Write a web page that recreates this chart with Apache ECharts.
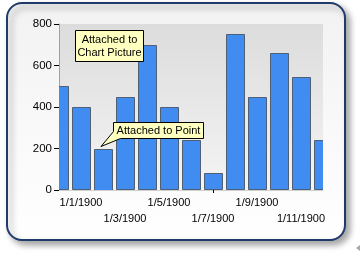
<!DOCTYPE html>
<html><head><meta charset="utf-8">
<script src="https://cdn.jsdelivr.net/npm/echarts@6/dist/echarts.min.js"></script>
<style>html,body{margin:0;padding:0;background:#fff}#c{width:361px;height:256px}</style>
</head><body><div id="c"></div>
<script>
var dates = ['12/31/1899','1/1/1900','1/2/1900','1/3/1900','1/4/1900','1/5/1900','1/6/1900','1/7/1900','1/8/1900','1/9/1900','1/10/1900','1/11/1900','1/12/1900'];
var values = [500, 400, 200, 450, 700, 400, 240, 80, 750, 450, 660, 545, 240];
var yTicks = [0, 200, 400, 600, 800];
var noteChart = ['Attached to', 'Chart Picture'];
var notePoint = 'Attached to Point';
var pointIndex = 2;

var FONT = '"Liberation Sans", Arial, sans-serif';
var BAR_W = 18;
var chart = echarts.init(document.getElementById('c'), null, {renderer: 'canvas'});

function xAxisRow(idxs, margin, showLine, tickIdx) {
  return {
    type: 'category', data: dates, boundaryGap: false, position: 'bottom', offset: 0,
    axisLine: {show: showLine, lineStyle: {color: '#d0d0d0', width: 1}},
    axisTick: {show: tickIdx != null, length: 3, lineStyle: {color: '#000'},
      interval: function (i) { return i === tickIdx; }},
    splitLine: {show: false},
    axisLabel: {
      interval: function (i) { return idxs.indexOf(i) >= 0; },
      color: '#000', fontFamily: FONT, fontSize: 11, margin: margin,
      hideOverlap: false, showMinLabel: true, showMaxLabel: true
    }
  };
}

chart.setOption({
  animation: false,
  backgroundColor: '#ffffff',
  grid: {
    left: 59, right: 38, top: 24, bottom: 66, show: true, borderWidth: 0,
    backgroundColor: {type: 'linear', x: 0, y: 0, x2: 0, y2: 1,
      colorStops: [{offset: 0, color: '#dcdcdc'}, {offset: 1, color: '#f4f4f4'}]}
  },
  xAxis: [xAxisRow([1, 5, 9], 7, true, 7), xAxisRow([3, 7, 11], 23, false, null)],
  yAxis: {
    type: 'value', min: yTicks[0], max: yTicks[yTicks.length - 1], interval: 200,
    axisLine: {show: true, lineStyle: {color: '#a0a0a0', width: 1}},
    axisTick: {show: true, length: 5, lineStyle: {color: '#000'}},
    splitLine: {show: false},
    axisLabel: {color: '#000', fontFamily: FONT, fontSize: 11.5, margin: 7}
  },
  series: [{
    type: 'custom', xAxisIndex: 0, clip: true,
    data: values.map(function (v, i) { return [i, v]; }),
    encode: {x: 0, y: 1},
    renderItem: function (params, api) {
      var top = api.coord([api.value(0), api.value(1)]);
      var base = api.coord([api.value(0), 0]);
      return {
        type: 'rect',
        shape: {x: Math.round(top[0] - BAR_W / 2) + 0.5, y: Math.round(top[1]) + 0.5, width: BAR_W, height: Math.round(base[1] - top[1]) - 1},
        style: {fill: '#418cf0', stroke: '#4f5f75', lineWidth: 1}
      };
    }
  }]
});

var tip = chart.convertToPixel({xAxisIndex: 0, yAxisIndex: 0}, [pointIndex, values[pointIndex]]);
var tx = tip[0] - 2, ty = tip[1] - 2;
var bx = Math.round(tx + 11.5) + 0.5, by = Math.round(ty - 25) + 0.5, bw = 90, bh = 16;

chart.setOption({
  graphic: [
    {type: 'rect', z: -100, silent: true,
      shape: {x: 7, y: 3, width: 338, height: 237, r: 15},
      style: {
        fill: {type: 'linear', x: 0, y: 0, x2: 0, y2: 1,
          colorStops: [{offset: 0, color: '#f2f2f2'}, {offset: 1, color: '#ffffff'}]},
        stroke: '#1f3b6b', lineWidth: 2,
        shadowBlur: 6, shadowOffsetX: 4, shadowOffsetY: 4, shadowColor: 'rgba(0,0,0,0.35)'
      }},
    {type: 'polygon', z: 100, silent: true,
      shape: {points: [[356, 248], [360, 245], [360, 251]]},
      style: {fill: '#a8a8a8'}},
    {type: 'rect', z: 100, silent: true,
      shape: {x: 75.5, y: 30.5, width: 68, height: 31},
      style: {fill: '#ffffc0', stroke: '#000', lineWidth: 1}},
    {type: 'text', z: 101, silent: true,
      style: {x: 109.5, y: 46, text: noteChart.join('\n'), fill: '#000', font: '11px ' + FONT,
        lineHeight: 13, align: 'center', verticalAlign: 'middle'}},
    {type: 'polygon', z: 100, silent: true,
      shape: {points: [[bx, by], [bx + bw, by], [bx + bw, by + bh], [bx + 7, by + bh], [tx, ty], [bx, by + 9]]},
      style: {fill: '#ffffc0', stroke: '#000', lineWidth: 1}},
    {type: 'text', z: 101, silent: true,
      style: {x: bx + bw / 2, y: by + bh / 2 + 0.5, text: notePoint, fill: '#000', font: '11px ' + FONT,
        align: 'center', verticalAlign: 'middle'}}
  ]
});
</script></body></html>
